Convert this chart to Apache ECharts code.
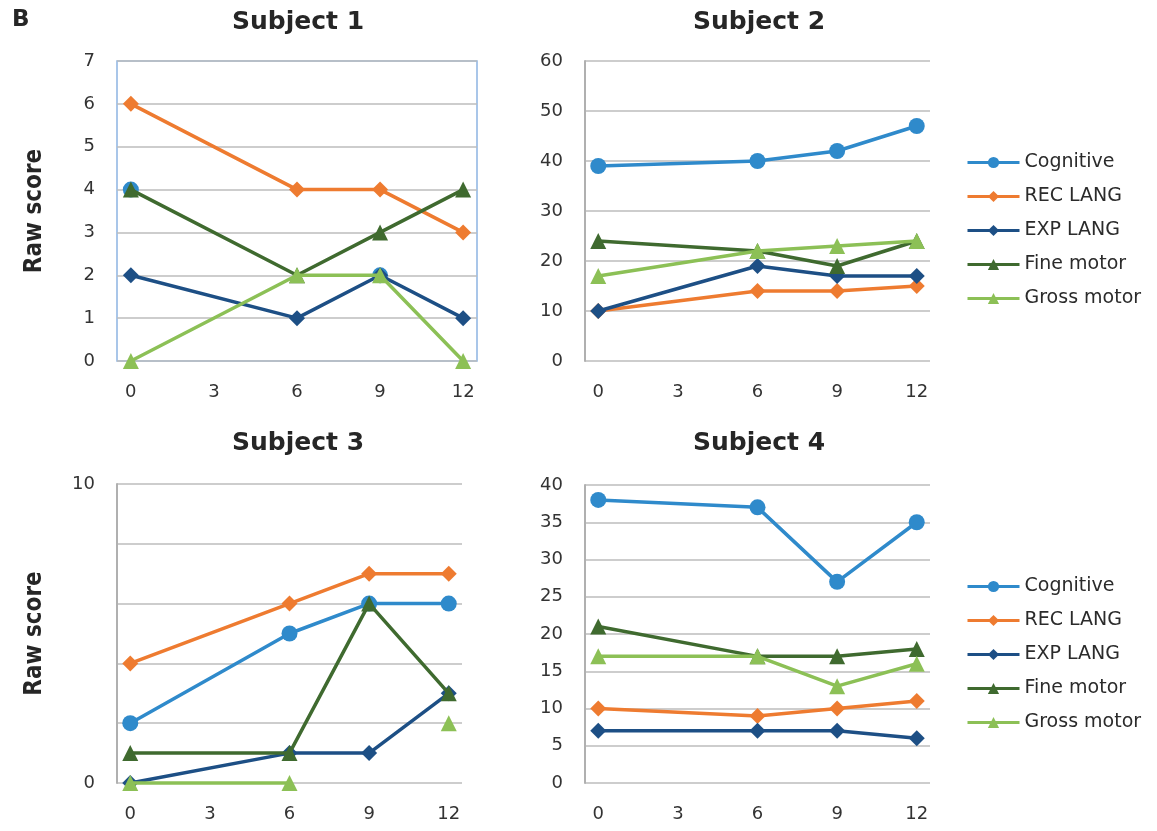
<!DOCTYPE html>
<html>
<head>
<meta charset="utf-8">
<script src="https://cdn.jsdelivr.net/npm/echarts@6/dist/echarts.min.js"></script>
<style>
html,body{margin:0;padding:0;background:#fff;}
#chart{width:1157px;height:831px;}
</style>
</head>
<body>
<div id="chart"></div>
<script>
// ---- data ----
const months = [0, 6, 9, 12];
const xTickLabels = [0, 3, 6, 9, 12];
const seriesNames = ['Cognitive', 'REC LANG', 'EXP LANG', 'Fine motor', 'Gross motor'];
const subjectTitles = ['Subject 1', 'Subject 2', 'Subject 3', 'Subject 4'];

const s1Cognitive  = [4, null, 2, null];
const s1RecLang    = [6, 4, 4, 3];
const s1ExpLang    = [2, 1, 2, 1];
const s1FineMotor  = [4, 2, 3, 4];
const s1GrossMotor = [0, 2, 2, 0];

const s2Cognitive  = [39, 40, 42, 47];
const s2RecLang    = [10, 14, 14, 15];
const s2ExpLang    = [10, 19, 17, 17];
const s2FineMotor  = [24, 22, 19, 24];
const s2GrossMotor = [17, 22, 23, 24];

const s3Cognitive  = [2, 5, 6, 6];
const s3RecLang    = [4, 6, 7, 7];
const s3ExpLang    = [0, 1, 1, 3];
const s3FineMotor  = [1, 1, 6, 3];
const s3GrossMotor = [0, 0, null, 2];

const s4Cognitive  = [38, 37, 27, 35];
const s4RecLang    = [10, 9, 10, 11];
const s4ExpLang    = [7, 7, 7, 6];
const s4FineMotor  = [21, 17, 17, 18];
const s4GrossMotor = [17, 17, 13, 16];

const yMax = [7, 60, 10, 40];
const yInterval = [1, 10, 2, 5];
const yShownLabels3 = [0, 10];

// ---- styles ----
const colors = ['#2F8ACB', '#EE7B30', '#1D4F85', '#3F6A2F', '#8CC056'];
const symbols = ['circle', 'diamond', 'diamond', 'triangle', 'triangle'];
const symbolSizes = [16, 16, 16, 16, 16];
const FONT = 'DejaVu Sans, sans-serif';

const allData = [
  [s1Cognitive, s1RecLang, s1ExpLang, s1FineMotor, s1GrossMotor],
  [s2Cognitive, s2RecLang, s2ExpLang, s2FineMotor, s2GrossMotor],
  [s3Cognitive, s3RecLang, s3ExpLang, s3FineMotor, s3GrossMotor],
  [s4Cognitive, s4RecLang, s4ExpLang, s4FineMotor, s4GrossMotor]
];

const grids = [
  {left: 117, top: 61, width: 360, height: 300},
  {left: 585, top: 61, width: 345, height: 300},
  {left: 117, top: 484, width: 345, height: 299},
  {left: 585, top: 485, width: 345, height: 298}
];
const titleCenters = [[298, 10], [759, 10], [298, 431], [759, 431]];

const chart = echarts.init(document.getElementById('chart'), null, {renderer: 'canvas'});

const option = {
  animation: false,
  backgroundColor: '#fff',
  title: [
    {text: 'B', left: 12, top: 9, padding: 0,
     textStyle: {fontFamily: FONT, fontWeight: 'bold', fontSize: 23, color: '#262626'}}
  ].concat(subjectTitles.map((t, i) => ({
    text: t, left: titleCenters[i][0], top: titleCenters[i][1], textAlign: 'center', padding: 0,
    textStyle: {fontFamily: FONT, fontWeight: 'bold', fontSize: 25, color: '#262626'}
  }))),
  legend: [0, 1].map(k => ({
    data: seriesNames,
    orient: 'vertical',
    left: 966,
    top: k === 0 ? 152 : 576,
    itemWidth: 52,
    itemHeight: 14,
    itemGap: 13,
    padding: 0,
    lineStyle: {width: 3},
    textStyle: {fontFamily: FONT, fontSize: 19, color: '#2b2b2b', lineHeight: 21}
  })),
  grid: grids.map((g, i) => Object.assign({
    show: i === 0,
    borderColor: '#8DB4E2',
    borderWidth: 1.5,
    backgroundColor: 'transparent',
    containLabel: false,
    outerBoundsMode: 'none'
  }, g)),
  xAxis: grids.map((g, i) => ({
    type: 'value', gridIndex: i, min: -0.5, max: 12.5,
    axisLine: {show: false},
    axisTick: {show: false},
    splitLine: {show: false},
    axisLabel: {customValues: xTickLabels, margin: 22, fontFamily: FONT, fontSize: 18, color: '#333'}
  })),
  yAxis: grids.map((g, i) => ({
    type: 'value', gridIndex: i, min: 0, max: yMax[i], interval: yInterval[i],
    name: (i === 0 || i === 2) ? 'Raw score' : '',
    nameLocation: 'middle',
    nameRotate: 90,
    nameGap: 70,
    nameTextStyle: {fontFamily: "'Liberation Sans Narrow', 'DejaVu Sans Condensed', sans-serif", fontWeight: 'bold', fontSize: 24, color: '#262626'},
    axisLine: {show: i !== 0, onZero: false, lineStyle: {color: '#B0B0B0', width: 2}},
    axisTick: {show: false},
    splitLine: {show: true, lineStyle: {color: '#BDBDBD', width: 1.5}},
    axisLabel: {
      margin: 22, fontFamily: FONT, fontSize: 18, color: '#333',
      formatter: i === 2 ? (v => yShownLabels3.indexOf(v) >= 0 ? String(v) : '') : (v => String(v))
    }
  })),
  series: []
};

allData.forEach((subj, gi) => {
  subj.forEach((vals, si) => {
    option.series.push({
      type: 'line',
      name: seriesNames[si],
      xAxisIndex: gi, yAxisIndex: gi,
      data: months.map((m, k) => [m, vals[k] === null ? '-' : vals[k]]),
      connectNulls: false,
      symbol: symbols[si],
      symbolSize: symbolSizes[si],
      showSymbol: true,
      showAllSymbol: true,
      clip: false,
      color: colors[si],
      itemStyle: {color: colors[si]},
      lineStyle: {color: colors[si], width: 3.5},
      z: 2 + si
    });
  });
});

chart.setOption(option);
</script>
</body>
</html>
